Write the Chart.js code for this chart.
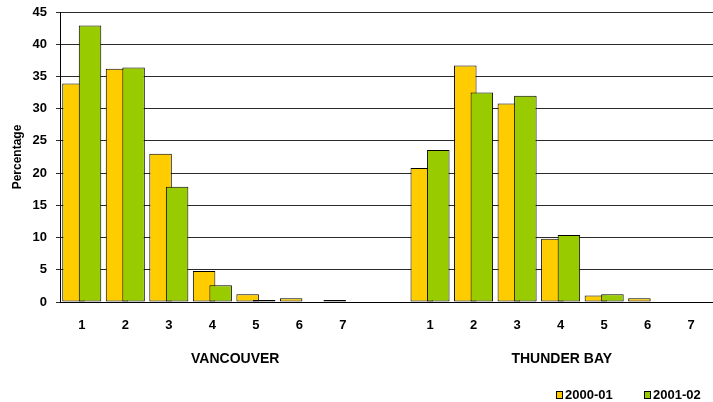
<!DOCTYPE html>
<html>
<head>
<meta charset="utf-8">
<script src="https://cdn.jsdelivr.net/npm/chart.js@4/dist/chart.umd.min.js"></script>
<style>
  html, body { margin: 0; padding: 0; background: #fff; }
  #wrap { position: relative; width: 713px; height: 402px; }
  #c { position: absolute; left: 0; top: 0; }
  .lg { position: absolute; top: 388px; font: bold 13px "Liberation Sans", Arial, sans-serif; line-height: 13px; color: #000; white-space: nowrap; }
  .lg i { position: absolute; left: 0; top: 3px; width: 5px; height: 6px; border: 1px solid #000; }
  .lg span { position: absolute; left: 9px; top: 0; }
</style>
</head>
<body>
<div id="wrap">
  <canvas id="c" width="713" height="402"></canvas>
</div>
<script>
// ---- data ----
const categories = ['1','2','3','4','5','6','7','','1','2','3','4','5','6','7'];
const groupLabels = ['VANCOUVER', 'THUNDER BAY'];
const seriesNames = ['2000-01', '2001-02'];
const values2000 = [33.9, 36.2, 23.0, 4.8, 1.2, 0.6, 0.1, null, 20.8, 36.7, 30.8, 9.8, 1.0, 0.6, null];
const values2001 = [42.9, 36.4, 17.9, 2.6, 0.1, null, null, null, 23.6, 32.5, 32.0, 10.4, 1.2, null, null];
const yTicks = [0, 5, 10, 15, 20, 25, 30, 35, 40, 45];
const colors = ['#FFCC00', '#99CC00'];

const FONT = '"Liberation Sans", Arial, sans-serif';

// draw datasets in index order so the second series overlaps the first
const drawOrderPlugin = {
  id: 'drawOrder',
  beforeDatasetsDraw(chart) {
    for (let i = 0; i < chart.data.datasets.length; i++) {
      const meta = chart.getDatasetMeta(i);
      if (meta.visible !== false) meta.controller.draw();
    }
    return false;
  }
};

const ds = [values2000, values2001].map((vals, i) => ({
  label: seriesNames[i],
  data: vals,
  backgroundColor: colors[i],
  borderColor: '#000',
  borderWidth: 1,
  borderSkipped: false,
  minBarLength: 2,
  categoryPercentage: 0.76,
  barPercentage: 1.36
}));

new Chart(document.getElementById('c'), {
  type: 'bar',
  data: { labels: categories, datasets: ds },
  options: {
    responsive: false,
    animation: false,
    devicePixelRatio: 1,
    layout: { padding: { top: 0, right: 0, bottom: 24, left: 0 } },
    plugins: {
      legend: { display: false },
      tooltip: { enabled: false }
    },
    scales: {
      y: {
        min: yTicks[0],
        max: yTicks[yTicks.length - 1],
        afterBuildTicks(scale) { scale.ticks = yTicks.map(v => ({ value: v })); },
        afterFit(scale) { scale.width = 60; scale.paddingTop = 12; scale.paddingBottom = 0; },
        ticks: { font: { family: FONT, size: 13, weight: 'bold' }, color: '#000', padding: 9 },
        grid: { color: '#2a2a2a', lineWidth: 1, tickLength: 4, drawTicks: true },
        border: { display: true, color: '#000', width: 1 },
        title: {
          display: true, text: 'Percentage', color: '#000',
          font: { family: FONT, size: 12, weight: 'bold' },
          padding: { top: 10, bottom: 0 }
        }
      },
      x: {
        type: 'category',
        offset: true,
        grid: { display: false, drawTicks: false },
        border: { display: true, color: '#000', width: 1 },
        ticks: { font: { family: FONT, size: 13, weight: 'bold' }, color: '#000', padding: 16, maxRotation: 0, autoSkip: false },
        afterFit(scale) { scale.height = 36; }
      },
      x2: {
        type: 'category',
        position: 'bottom',
        weight: 1,
        labels: groupLabels,
        offset: true,
        grid: { display: false, drawTicks: false },
        border: { display: false },
        ticks: { font: { family: FONT, size: 14, weight: 'bold' }, color: '#000', padding: 13, labelOffset: 12, maxRotation: 0, autoSkip: false },
        afterFit(scale) { scale.height = 40; }
      }
    }
  },
  plugins: [drawOrderPlugin]
});

// legend built from series names and colours
const wrap = document.getElementById('wrap');
const legendLeft = [556, 644];
seriesNames.forEach((name, i) => {
  const d = document.createElement('div');
  d.className = 'lg';
  d.style.left = legendLeft[i] + 'px';
  const box = document.createElement('i');
  box.style.background = colors[i];
  const t = document.createElement('span');
  t.textContent = name;
  d.appendChild(box); d.appendChild(t);
  wrap.appendChild(d);
});
</script>
</body>
</html>
